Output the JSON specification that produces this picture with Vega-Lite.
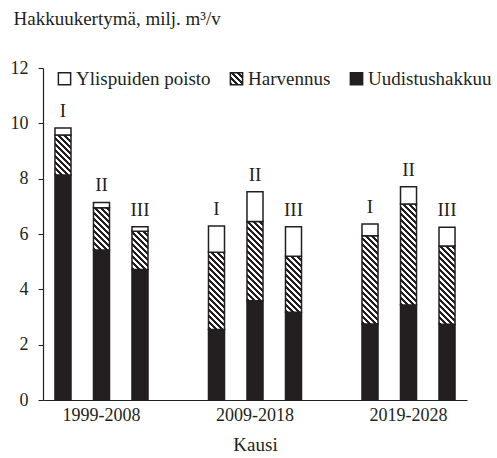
{
  "$schema": "https://vega.github.io/schema/vega-lite/v6.json",
  "width": 424,
  "height": 332,
  "autosize": {"type": "none"},
  "padding": {"left": 43, "top": 68, "right": 30, "bottom": 58},
  "background": "white",
  "params": [
    {"name": "hatch", "value": [
      {"offset": 0, "color": "#231f20"}, {"offset": 0.025, "color": "#231f20"}, {"offset": 0.025, "color": "#ffffff"}, {"offset": 0.05, "color": "#ffffff"},
      {"offset": 0.05, "color": "#231f20"}, {"offset": 0.075, "color": "#231f20"}, {"offset": 0.075, "color": "#ffffff"}, {"offset": 0.1, "color": "#ffffff"},
      {"offset": 0.1, "color": "#231f20"}, {"offset": 0.125, "color": "#231f20"}, {"offset": 0.125, "color": "#ffffff"}, {"offset": 0.15, "color": "#ffffff"},
      {"offset": 0.15, "color": "#231f20"}, {"offset": 0.175, "color": "#231f20"}, {"offset": 0.175, "color": "#ffffff"}, {"offset": 0.2, "color": "#ffffff"},
      {"offset": 0.2, "color": "#231f20"}, {"offset": 0.225, "color": "#231f20"}, {"offset": 0.225, "color": "#ffffff"}, {"offset": 0.25, "color": "#ffffff"},
      {"offset": 0.25, "color": "#231f20"}, {"offset": 0.275, "color": "#231f20"}, {"offset": 0.275, "color": "#ffffff"}, {"offset": 0.3, "color": "#ffffff"},
      {"offset": 0.3, "color": "#231f20"}, {"offset": 0.325, "color": "#231f20"}, {"offset": 0.325, "color": "#ffffff"}, {"offset": 0.35, "color": "#ffffff"},
      {"offset": 0.35, "color": "#231f20"}, {"offset": 0.375, "color": "#231f20"}, {"offset": 0.375, "color": "#ffffff"}, {"offset": 0.4, "color": "#ffffff"},
      {"offset": 0.4, "color": "#231f20"}, {"offset": 0.425, "color": "#231f20"}, {"offset": 0.425, "color": "#ffffff"}, {"offset": 0.45, "color": "#ffffff"},
      {"offset": 0.45, "color": "#231f20"}, {"offset": 0.475, "color": "#231f20"}, {"offset": 0.475, "color": "#ffffff"}, {"offset": 0.5, "color": "#ffffff"},
      {"offset": 0.5, "color": "#231f20"}, {"offset": 0.525, "color": "#231f20"}, {"offset": 0.525, "color": "#ffffff"}, {"offset": 0.55, "color": "#ffffff"},
      {"offset": 0.55, "color": "#231f20"}, {"offset": 0.575, "color": "#231f20"}, {"offset": 0.575, "color": "#ffffff"}, {"offset": 0.6, "color": "#ffffff"},
      {"offset": 0.6, "color": "#231f20"}, {"offset": 0.625, "color": "#231f20"}, {"offset": 0.625, "color": "#ffffff"}, {"offset": 0.65, "color": "#ffffff"},
      {"offset": 0.65, "color": "#231f20"}, {"offset": 0.675, "color": "#231f20"}, {"offset": 0.675, "color": "#ffffff"}, {"offset": 0.7, "color": "#ffffff"},
      {"offset": 0.7, "color": "#231f20"}, {"offset": 0.725, "color": "#231f20"}, {"offset": 0.725, "color": "#ffffff"}, {"offset": 0.75, "color": "#ffffff"},
      {"offset": 0.75, "color": "#231f20"}, {"offset": 0.775, "color": "#231f20"}, {"offset": 0.775, "color": "#ffffff"}, {"offset": 0.8, "color": "#ffffff"},
      {"offset": 0.8, "color": "#231f20"}, {"offset": 0.825, "color": "#231f20"}, {"offset": 0.825, "color": "#ffffff"}, {"offset": 0.85, "color": "#ffffff"},
      {"offset": 0.85, "color": "#231f20"}, {"offset": 0.875, "color": "#231f20"}, {"offset": 0.875, "color": "#ffffff"}, {"offset": 0.9, "color": "#ffffff"},
      {"offset": 0.9, "color": "#231f20"}, {"offset": 0.925, "color": "#231f20"}, {"offset": 0.925, "color": "#ffffff"}, {"offset": 0.95, "color": "#ffffff"},
      {"offset": 0.95, "color": "#231f20"}, {"offset": 0.975, "color": "#231f20"}, {"offset": 0.975, "color": "#ffffff"}, {"offset": 1, "color": "#ffffff"}
    ]}
  ],
  "data": {"values": [
    {"period": "1999-2008", "scen": "I", "type": "Uudistushakkuu", "value": 8.13},
    {"period": "1999-2008", "scen": "I", "type": "Harvennus", "value": 1.45},
    {"period": "1999-2008", "scen": "I", "type": "Ylispuiden poisto", "value": 0.25},
    {"period": "1999-2008", "scen": "II", "type": "Uudistushakkuu", "value": 5.42},
    {"period": "1999-2008", "scen": "II", "type": "Harvennus", "value": 1.53},
    {"period": "1999-2008", "scen": "II", "type": "Ylispuiden poisto", "value": 0.19},
    {"period": "1999-2008", "scen": "III", "type": "Uudistushakkuu", "value": 4.72},
    {"period": "1999-2008", "scen": "III", "type": "Harvennus", "value": 1.38},
    {"period": "1999-2008", "scen": "III", "type": "Ylispuiden poisto", "value": 0.16},
    {"period": "2009-2018", "scen": "I", "type": "Uudistushakkuu", "value": 2.55},
    {"period": "2009-2018", "scen": "I", "type": "Harvennus", "value": 2.79},
    {"period": "2009-2018", "scen": "I", "type": "Ylispuiden poisto", "value": 0.95},
    {"period": "2009-2018", "scen": "II", "type": "Uudistushakkuu", "value": 3.59},
    {"period": "2009-2018", "scen": "II", "type": "Harvennus", "value": 2.86},
    {"period": "2009-2018", "scen": "II", "type": "Ylispuiden poisto", "value": 1.08},
    {"period": "2009-2018", "scen": "III", "type": "Uudistushakkuu", "value": 3.17},
    {"period": "2009-2018", "scen": "III", "type": "Harvennus", "value": 2.03},
    {"period": "2009-2018", "scen": "III", "type": "Ylispuiden poisto", "value": 1.06},
    {"period": "2019-2028", "scen": "I", "type": "Uudistushakkuu", "value": 2.75},
    {"period": "2019-2028", "scen": "I", "type": "Harvennus", "value": 3.19},
    {"period": "2019-2028", "scen": "I", "type": "Ylispuiden poisto", "value": 0.42},
    {"period": "2019-2028", "scen": "II", "type": "Uudistushakkuu", "value": 3.43},
    {"period": "2019-2028", "scen": "II", "type": "Harvennus", "value": 3.65},
    {"period": "2019-2028", "scen": "II", "type": "Ylispuiden poisto", "value": 0.63},
    {"period": "2019-2028", "scen": "III", "type": "Uudistushakkuu", "value": 2.74},
    {"period": "2019-2028", "scen": "III", "type": "Harvennus", "value": 2.83},
    {"period": "2019-2028", "scen": "III", "type": "Ylispuiden poisto", "value": 0.67}
  ]},
  "transform": [
    {"calculate": "indexof(['Uudistushakkuu', 'Harvennus', 'Ylispuiden poisto'], datum.type)", "as": "ord"}
  ],
  "encoding": {
    "x": {
      "field": "period", "type": "nominal", "title": "Kausi",
      "scale": {"paddingInner": 0.238, "paddingOuter": 0},
      "axis": {"labelAngle": 0, "ticks": false, "labelPadding": 6, "titlePadding": 11, "domainColor": "#231f20", "domainWidth": 1.2}
    },
    "xOffset": {
      "field": "scen", "type": "nominal",
      "scale": {"paddingInner": 0.584, "paddingOuter": 0.311}
    }
  },
  "layer": [
    {
      "mark": {"type": "bar", "stroke": "#231f20", "strokeWidth": 1.5},
      "encoding": {
        "y": {
          "field": "value", "type": "quantitative", "stack": "zero",
          "title": "Hakkuukertymä, milj. m³/v",
          "scale": {"domain": [0, 12], "nice": false},
          "axis": {
            "values": [0, 2, 4, 6, 8, 10, 12], "grid": false, "tickSize": 5, "labelPadding": 10,
            "domainColor": "#231f20", "tickColor": "#231f20", "domainWidth": 1.2,
            "titleAngle": 0, "titleAlign": "left", "titleBaseline": "alphabetic", "titleX": -30, "titleY": -44, "titleFontSize": 19
          }
        },
        "order": {"field": "ord", "type": "quantitative"},
        "fill": {
          "field": "type", "type": "nominal",
          "condition": {
            "test": "datum.type === 'Harvennus'",
            "value": {"expr": "{gradient: 'linear', x1: 0, y1: 1, x2: 1920 / (256 + pow(datum.value * 27.667, 2)), y2: 1 - 120 * datum.value * 27.667 / (256 + pow(datum.value * 27.667, 2)), stops: hatch}"}
          },
          "scale": {
            "domain": ["Ylispuiden poisto", "Harvennus", "Uudistushakkuu"],
            "range": [
              "#ffffff",
              {"expr": "{gradient: 'linear', x1: 0, y1: 1, x2: 5, y2: -4, stops: hatch}"},
              "#231f20"
            ]
          },
          "legend": {
            "title": null, "orient": "none", "legendX": 12, "legendY": 1, "direction": "horizontal",
            "symbolType": "square", "symbolSize": 150, "symbolStrokeColor": "#231f20", "symbolStrokeWidth": 1.5,
            "labelFontSize": 19, "labelFont": "Liberation Serif", "labelColor": "#231f20", "labelOffset": 2,
            "columnPadding": 16, "padding": 0, "labelLimit": 300
          }
        }
      }
    },
    {
      "transform": [
        {"aggregate": [{"op": "sum", "field": "value", "as": "total"}], "groupby": ["period", "scen"]}
      ],
      "mark": {"type": "text", "baseline": "alphabetic", "dy": -11, "font": "Liberation Serif", "fontSize": 19, "color": "#231f20"},
      "encoding": {
        "y": {"field": "total", "type": "quantitative"},
        "text": {"field": "scen"}
      }
    }
  ],
  "config": {
    "view": {"stroke": null},
    "font": "Liberation Serif",
    "axis": {
      "labelFont": "Liberation Serif", "labelFontSize": 18, "labelColor": "#231f20",
      "titleFont": "Liberation Serif", "titleFontSize": 19, "titleFontWeight": "normal", "titleColor": "#231f20"
    }
  }
}
